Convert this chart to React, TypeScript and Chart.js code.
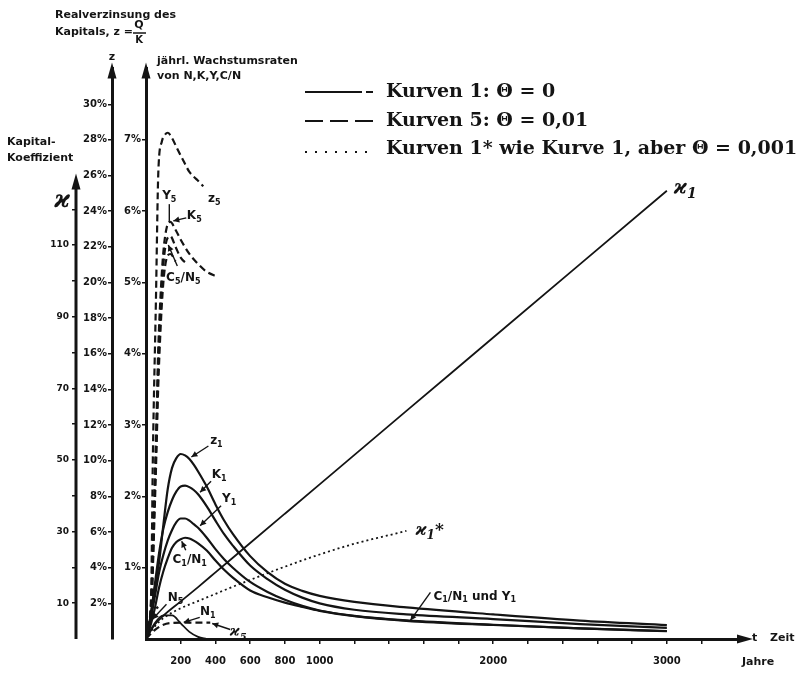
import React, { useEffect, useRef } from "react";
import { Chart, registerables } from "chart.js";
Chart.register(...registerables);

// ---------------- data ----------------
// Kurven 1 (Θ = 0)
const tMain = [0, 25, 50, 75, 100, 125, 150, 175, 200, 225, 250, 275, 300, 350, 400, 450, 500, 600, 700, 800, 900, 1000, 1200, 1500, 2000, 2500, 3000];
const z1 = [0, 1.2, 2.8, 4.3, 6.4, 8.4, 9.6, 10.15, 10.38, 10.3, 10.1, 9.78, 9.4, 8.55, 7.55, 6.65, 5.9, 4.65, 3.75, 3.1, 2.7, 2.42, 2.08, 1.77, 1.38, 1.03, 0.78];
const K1 = [0, 0.3, 0.75, 1.2, 1.55, 1.78, 1.95, 2.07, 2.14, 2.15, 2.13, 2.09, 2.03, 1.86, 1.66, 1.47, 1.31, 1.03, 0.84, 0.69, 0.58, 0.5, 0.41, 0.345, 0.28, 0.21, 0.155];
const Y1 = [0, 0.25, 0.58, 0.93, 1.18, 1.38, 1.53, 1.64, 1.69, 1.69, 1.66, 1.61, 1.56, 1.42, 1.26, 1.12, 1.0, 0.8, 0.66, 0.55, 0.465, 0.4, 0.325, 0.26, 0.2, 0.15, 0.112];
const C1N1 = [0, 0.18, 0.42, 0.72, 0.95, 1.13, 1.28, 1.36, 1.4, 1.42, 1.41, 1.38, 1.34, 1.24, 1.1, 0.97, 0.86, 0.68, 0.585, 0.51, 0.45, 0.395, 0.32, 0.255, 0.196, 0.148, 0.109];
const tN1 = [0, 50, 100, 150, 200, 250, 300, 350];
const N1 = [0, 0.22, 0.33, 0.33, 0.22, 0.1, 0.03, 0];
const tKappa1 = [0, 50, 100, 200, 300, 400, 500, 600, 800, 1000, 1500, 2000, 2500, 3000];
const kappa1 = [0, 4, 6.5, 10.5, 14.5, 18.6, 22.7, 26.8, 35, 43.2, 63.7, 84.2, 104.7, 125.2];
// Kurven 1* (Θ = 0,001)
const tKappa1s = [0, 50, 100, 200, 300, 400, 500, 600, 800, 1000, 1200, 1400, 1500];
const kappa1s = [0, 3.5, 5.8, 8.6, 10.6, 12.6, 14.6, 16.5, 20.2, 23.6, 26.6, 29.0, 30.2];
// Kurven 5 (Θ = 0,01)
const tZ5 = [0, 29, 40, 57, 71, 91, 110, 126, 150, 180, 217, 250, 290, 330];
const z5 = [0, 2.3, 10.5, 18.9, 26.2, 27.9, 28.3, 28.4, 28.1, 27.5, 26.8, 26.2, 25.8, 25.4];
const tK5 = [0, 30, 50, 60, 70, 85, 100, 120, 140, 170, 200, 250, 300, 350, 411];
const K5 = [0, 0.53, 2.21, 3.05, 4.03, 4.87, 5.43, 5.78, 5.85, 5.74, 5.6, 5.4, 5.26, 5.15, 5.08];
const tY5 = [0, 30, 50, 60, 70, 85, 100, 120, 140, 170, 200, 240];
const Y5 = [0, 0.45, 2.0, 2.85, 3.8, 4.65, 5.25, 5.6, 5.65, 5.5, 5.35, 5.25];
const tC5N5 = [0, 30, 50, 60, 70, 85, 100, 120, 140, 170];
const C5N5 = [0, 0.4, 1.8, 2.6, 3.5, 4.4, 5.0, 5.35, 5.4, 5.3];
const tN5 = [0, 20, 40, 70];
const N5 = [0, 0.25, 0.38, 0.45];
const tKappa5 = [0, 50, 100, 150, 250, 370];
const kappa5 = [0, 2.5, 4.0, 4.5, 4.6, 4.6];

// tick labels
const xTickLabels = [200, 400, 600, 800, 1000, 2000, 3000];
const growthTickLabels = [1, 2, 3, 4, 5, 6, 7];
const zTickLabels = [2, 4, 6, 8, 10, 12, 14, 16, 18, 20, 22, 24, 26, 28, 30];
const kappaTickLabels = [10, 30, 50, 70, 90, 110];
const kappaMinorTicks = [20, 40, 60, 80, 100, 120];

const legendRows = ["Kurven 1: Θ = 0", "Kurven 5: Θ = 0,01", "Kurven 1* wie Kurve 1, aber Θ = 0,001"];

const SANS = "'DejaVu Sans', 'Open Sans', sans-serif";
const SERIF = "'DejaVu Serif', 'Liberation Serif', serif";
const INK = "#141414";

type Ann = {
  ds: string; i: number; text: string; lx: number; ly: number;
  l?: number[]; head?: boolean; align?: string; size?: number; serif?: boolean;
};
const annotations: Ann[] = [
  { ds: "z1", i: 10, text: "z_1", lx: 27, ly: -18, l: [19, -13, 2, -2] },
  { ds: "K1", i: 12, text: "K_1", lx: 21, ly: -19, l: [13, -13, 2, -2] },
  { ds: "Y1", i: 12, text: "Y_1", lx: 31, ly: -29, l: [23, -22, 2, -2] },
  { ds: "C1N1", i: 8, text: "C_1/N_1", lx: 9, ly: 21, l: [5, 11, 1, 2] },
  { ds: "k1", i: 13, text: "ϰ_1", lx: 7, ly: -3, align: "left", size: 20, serif: true },
  { ds: "k1s", i: 12, text: "ϰ_1*", lx: 9, ly: 0, align: "left", size: 17, serif: true },
  { ds: "z5", i: 13, text: "z_5", lx: 11, ly: 13 },
  { ds: "Y5", i: 8, text: "Y_5", lx: -1, ly: -40, l: [-1, -32, -1, -15], head: false },
  { ds: "K5", i: 8, text: "K_5", lx: 24, ly: -6, l: [16, -4, 3, -1] },
  { ds: "C5N5", i: 8, text: "C_5/N_5", lx: 13, ly: 24, l: [7, 12, -2, -9] },
  { ds: "N5", i: 1, text: "N_5", lx: 26, ly: -23, l: [17, -17, 3, -2] },
  { ds: "N1", i: 4, text: "N_1", lx: 27, ly: -11, l: [19, -6, 3, -1] },
  { ds: "k5", i: 5, text: "ϰ_5", lx: 28, ly: 10, l: [20, 7, 2, 1], serif: true, size: 15 },
  { ds: "Y1", i: 23, text: "C_1/N_1 und Y_1", lx: 27, ly: -24, align: "left", l: [24, -28, 4, 0] },
];

function drawRich(ctx: CanvasRenderingContext2D, str: string, x: number, y: number, size: number, align = "center", family = SANS, style = "bold") {
  const segs: { t: string; sub: boolean }[] = [];
  for (let i = 0; i < str.length; i++) {
    if (str[i] === "_" && i + 1 < str.length) {
      segs.push({ t: str[i + 1], sub: true });
      i++;
    } else {
      const last = segs[segs.length - 1];
      if (last && !last.sub) last.t += str[i];
      else segs.push({ t: str[i], sub: false });
    }
  }
  const sub = Math.round(size * 0.68);
  let total = 0;
  const ws = segs.map((s) => {
    ctx.font = `${style} ${s.sub ? sub : size}px ${family}`;
    const w = ctx.measureText(s.t).width;
    total += w;
    return w;
  });
  let cx = align === "center" ? x - total / 2 : align === "right" ? x - total : x;
  ctx.textAlign = "left";
  ctx.textBaseline = "middle";
  segs.forEach((s, k) => {
    ctx.font = `${style} ${s.sub ? sub : size}px ${family}`;
    ctx.fillText(s.t, cx, s.sub ? y + size * 0.32 : y);
    cx += ws[k];
  });
}

function arrow(ctx: CanvasRenderingContext2D, x1: number, y1: number, x2: number, y2: number, head = true) {
  ctx.beginPath();
  ctx.moveTo(x1, y1);
  ctx.lineTo(x2, y2);
  ctx.stroke();
  if (!head) return;
  const a = Math.atan2(y2 - y1, x2 - x1);
  const L = 6, W = 3;
  const c = Math.cos(a), s = Math.sin(a);
  ctx.beginPath();
  ctx.moveTo(x2, y2);
  ctx.lineTo(x2 - L * c + W * s, y2 - L * s - W * c);
  ctx.lineTo(x2 - L * c - W * s, y2 - L * s + W * c);
  ctx.closePath();
  ctx.fill();
}

const decorPlugin = {
  id: "decor",
  afterDatasetsDraw(chart: any) {
    const ctx: CanvasRenderingContext2D = chart.ctx;
    ctx.save();
    ctx.fillStyle = INK;
    ctx.strokeStyle = INK;
    ctx.lineWidth = 1.4;
    for (const a of annotations) {
      const idx = chart.data.datasets.findIndex((d: any) => d.label === a.ds);
      const el = chart.getDatasetMeta(idx).data[a.i];
      if (!el) continue;
      const ax = el.x, ay = el.y;
      if (a.l) arrow(ctx, ax + a.l[0], ay + a.l[1], ax + a.l[2], ay + a.l[3], a.head !== false);
      drawRich(ctx, a.text, ax + a.lx, ay + a.ly, a.size || 12, a.align || "center", a.serif ? SERIF : SANS, a.serif ? "italic bold" : "bold");
    }
    ctx.restore();
  },
  afterDraw(chart: any) {
    const ctx: CanvasRenderingContext2D = chart.ctx;
    const { chartArea, scales } = chart;
    ctx.save();
    ctx.fillStyle = INK;
    ctx.strokeStyle = INK;

    const upArrow = (x: number, tipY: number) => {
      ctx.beginPath();
      ctx.moveTo(x, tipY);
      ctx.lineTo(x - 4.5, tipY + 16);
      ctx.lineTo(x + 4.5, tipY + 16);
      ctx.closePath();
      ctx.fill();
    };
    upArrow(scales.y.right, chartArea.top - 6);
    upArrow(scales.yz.right, chartArea.top - 6);

    // kappa axis (drawn only up to 130)
    const kx = scales.yk.right;
    const k0 = scales.yk.getPixelForValue(0);
    const kTop = scales.yk.getPixelForValue(130);
    ctx.lineWidth = 3;
    ctx.beginPath();
    ctx.moveTo(kx, k0);
    ctx.lineTo(kx, kTop + 8);
    ctx.stroke();
    upArrow(kx, kTop);

    // x axis arrow
    const xy = scales.x.top;
    ctx.beginPath();
    ctx.moveTo(chartArea.right + 8, xy);
    ctx.lineTo(chartArea.right - 8, xy - 4.5);
    ctx.lineTo(chartArea.right - 8, xy + 4.5);
    ctx.closePath();
    ctx.fill();

    // axis titles
    ctx.textAlign = "left";
    ctx.textBaseline = "middle";
    ctx.font = `bold 11px ${SANS}`;
    ctx.fillText("Realverzinsung des", 55, 15);
    ctx.fillText("Kapitals, z =", 55, 32);
    ctx.textAlign = "center";
    ctx.fillText("Q", 139, 25);
    ctx.font = `bold 10px ${SANS}`;
    ctx.fillText("K", 139, 40);
    ctx.lineWidth = 1.5;
    ctx.beginPath();
    ctx.moveTo(133, 33);
    ctx.lineTo(146, 33);
    ctx.stroke();
    ctx.font = `bold 11px ${SANS}`;
    ctx.fillText("z", scales.yz.right, 57);
    ctx.textAlign = "left";
    ctx.fillText("jährl. Wachstumsraten", 157, 61);
    ctx.fillText("von N,K,Y,C/N", 157, 76);
    ctx.fillText("Kapital-", 7, 142);
    ctx.fillText("Koeffizient", 7, 158);
    ctx.font = `italic bold 24px ${SERIF}`;
    ctx.textAlign = "center";
    ctx.fillText("ϰ", 62, 201);

    ctx.font = `bold 11px ${SANS}`;
    ctx.textAlign = "left";
    ctx.fillText("t", 752, xy - 1);
    ctx.fillText("Zeit", 770, xy - 1);
    ctx.fillText("Jahre", 742, 662);

    // legend
    const rowsY = [92, 121, 149];
    ctx.lineWidth = 2;
    ctx.setLineDash([]);
    ctx.beginPath();
    ctx.moveTo(305, rowsY[0]);
    ctx.lineTo(362, rowsY[0]);
    ctx.moveTo(366, rowsY[0]);
    ctx.lineTo(373, rowsY[0]);
    ctx.stroke();
    ctx.setLineDash([18, 7]);
    ctx.beginPath();
    ctx.moveTo(305, rowsY[1]);
    ctx.lineTo(373, rowsY[1]);
    ctx.stroke();
    ctx.setLineDash([2, 8]);
    ctx.beginPath();
    ctx.moveTo(305, rowsY[2] + 3);
    ctx.lineTo(373, rowsY[2] + 3);
    ctx.stroke();
    ctx.setLineDash([]);
    ctx.font = `bold 19px ${SERIF}`;
    ctx.textAlign = "left";
    legendRows.forEach((r, k) => ctx.fillText(r, 386, rowsY[k]));

    ctx.restore();
  },
};

function pts(ts: number[], vs: number[]) {
  return ts.map((t, i) => ({ x: t, y: vs[i] }));
}

export default function App() {
  const ref = useRef<HTMLCanvasElement>(null);
  useEffect(() => {
    const canvas = ref.current;
    if (!canvas) return;
    const solid = { borderColor: INK, borderWidth: 2.2, pointRadius: 0, fill: false, cubicInterpolationMode: "monotone" as const };
    const dashed = { ...solid, borderDash: [7, 4] };
    const datasets: any[] = [
      { label: "z1", data: pts(tMain, z1), yAxisID: "yz", ...solid },
      { label: "K1", data: pts(tMain, K1), yAxisID: "y", ...solid },
      { label: "Y1", data: pts(tMain, Y1), yAxisID: "y", ...solid },
      { label: "C1N1", data: pts(tMain, C1N1), yAxisID: "y", ...solid },
      { label: "N1", data: pts(tN1, N1), yAxisID: "y", ...solid, borderWidth: 1.8 },
      { label: "k1", data: pts(tKappa1, kappa1), yAxisID: "yk", ...solid, borderWidth: 1.8 },
      { label: "k1s", data: pts(tKappa1s, kappa1s), yAxisID: "yk", ...solid, borderWidth: 1.8, borderDash: [2, 3] },
      { label: "z5", data: pts(tZ5, z5), yAxisID: "yz", ...dashed },
      { label: "K5", data: pts(tK5, K5), yAxisID: "y", ...dashed },
      { label: "Y5", data: pts(tY5, Y5), yAxisID: "y", ...dashed },
      { label: "C5N5", data: pts(tC5N5, C5N5), yAxisID: "y", ...dashed },
      { label: "N5", data: pts(tN5, N5), yAxisID: "y", ...dashed },
      { label: "k5", data: pts(tKappa5, kappa5), yAxisID: "yk", ...dashed },
    ];
    const tickFont = { family: SANS, size: 10, weight: "bold" as const };
    const gridBase = { display: true, drawOnChartArea: false, drawTicks: true, tickLength: 4, color: INK, lineWidth: 1.5 };
    const chart = new Chart(canvas, {
      type: "line",
      data: { datasets },
      options: {
        responsive: false,
        animation: false,
        devicePixelRatio: 1,
        layout: { padding: { top: 68.6, right: 60, bottom: 0, left: 0 } },
        plugins: { legend: { display: false }, tooltip: { enabled: false }, title: { display: false } },
        scales: {
          x: {
            type: "linear",
            min: 0,
            max: 3450,
            grid: { ...gridBase, tickLength: 5 },
            border: { display: true, color: INK, width: 3 },
            afterFit: (s: any) => { s.height = 37; },
            ticks: {
              stepSize: 200,
              autoSkip: false,
              maxRotation: 0,
              padding: 11,
              color: INK,
              font: tickFont,
              callback: (v: any) => {
                if (xTickLabels.includes(v)) return String(v);
                if (v > 0 && v <= 3200 && v % 200 === 0) return "";
                return null;
              },
            },
          },
          y: {
            type: "linear",
            position: "left",
            weight: 0,
            min: 0,
            max: 8,
            grid: gridBase,
            border: { display: true, color: INK, width: 3 },
            afterFit: (s: any) => { s.width = 34; },
            ticks: {
              stepSize: 1,
              padding: 1,
              color: INK,
              font: tickFont,
              callback: (v: any) => (growthTickLabels.includes(v) ? v + "%" : null),
            },
          },
          yz: {
            type: "linear",
            position: "left",
            weight: 1,
            min: 0,
            max: 32,
            grid: gridBase,
            border: { display: true, color: INK, width: 3 },
            afterFit: (s: any) => { s.width = 36; },
            ticks: {
              stepSize: 2,
              padding: 1,
              color: INK,
              font: tickFont,
              callback: (v: any) => (zTickLabels.includes(v) ? v + "%" : null),
            },
          },
          yk: {
            type: "linear",
            position: "left",
            weight: 2,
            min: 0,
            max: 159.3,
            grid: gridBase,
            border: { display: false },
            afterFit: (s: any) => { s.width = 76; },
            ticks: {
              stepSize: 10,
              padding: 3,
              color: INK,
              font: { family: SANS, size: 9, weight: "bold" as const },
              callback: (v: any) => {
                if (kappaTickLabels.includes(v)) return String(v);
                if (kappaMinorTicks.includes(v)) return "";
                return null;
              },
            },
          },
        },
      } as any,
      plugins: [decorPlugin],
    });
    return () => chart.destroy();
  }, []);
  return (
    <div style={{ position: "absolute", left: 0, top: 0, width: 805, height: 676, background: "#fff" }}>
      <canvas ref={ref} width={805} height={676} style={{ display: "block" }} />
    </div>
  );
}
